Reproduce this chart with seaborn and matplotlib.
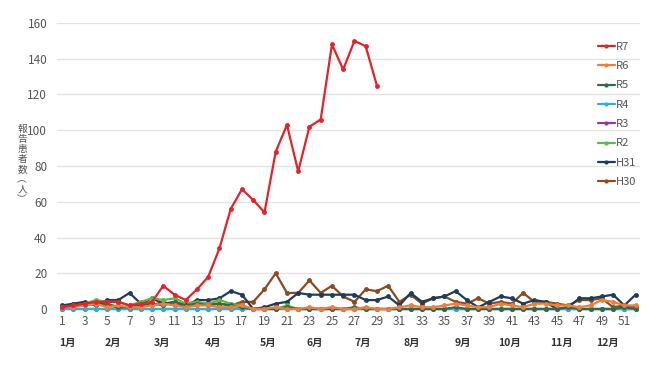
import matplotlib
matplotlib.use("Agg")
import matplotlib.pyplot as plt
from matplotlib.lines import Line2D
import seaborn as sns
import numpy as np
import pandas as pd

# weekly report counts
weeks = list(range(1, 53))
r7 = [1, 2, 3, 4, 4, 4, 2, 3, 4, 13, 8, 5, 11, 18, 34, 56, 67, 61, 54, 88,
      103, 77, 102, 106, 148, 134, 150, 147, 125]
r6 = [1, 1, 2, 3, 1, 2, 1, 1, 2, 3, 2, 1, 2, 2, 1, 1, 2, 0, 0, 1,
      0, 0, 1, 0, 1, 0, 0, 1, 0, 0, 1, 2, 1, 1, 2, 3, 2, 1, 1, 3,
      2, 1, 3, 3, 2, 2, 1, 2, 5, 4, 2, 2]
r5 = [1, 2, 2, 3, 2, 1, 1, 2, 3, 2, 4, 2, 3, 2, 3, 2, 1, 0, 0, 0,
      1, 0, 0, 0, 0, 0, 1, 0, 0, 0, 0, 0, 0, 0, 0, 1, 0, 0, 0, 0,
      0, 0, 0, 0, 0, 1, 0, 0, 0, 0, 1, 0]
r4 = [0] * 52
r3 = [0] * 52
r2 = [0, 1, 3, 5, 4, 4, 2, 4, 6, 5, 6, 3, 4, 3, 5, 3, 2, 0, 0, 0,
      2, 0, 0, 0, 0, 0, 0, 0, 0, 0, 0, 0, 0, 0, 0, 0, 0, 0, 0, 0,
      0, 0, 0, 0, 0, 0, 0, 0, 0, 0, 0, 0]
h31 = [2, 3, 4, 2, 5, 5, 9, 3, 6, 3, 4, 2, 5, 5, 6, 10, 8, 0, 1, 3,
       4, 9, 8, 8, 8, 8, 8, 5, 5, 7, 2, 9, 4, 6, 7, 10, 5, 1, 4, 7,
       6, 3, 5, 4, 0, 1, 6, 6, 7, 8, 2, 8]
h30 = [0, 1, 3, 4, 3, 1, 0, 3, 2, 4, 2, 2, 3, 3, 3, 2, 4, 4, 11, 20,
       9, 9, 16, 9, 13, 7, 4, 11, 10, 13, 4, 8, 3, 6, 7, 4, 3, 6, 3, 4,
       3, 9, 4, 4, 3, 2, 5, 5, 6, 1, 2, 1]

series = ["R7", "R6", "R5", "R4", "R3", "R2", "H31", "H30"]
values = [r7, r6, r5, r4, r3, r2, h31, h30]
colors = ["#e3232a", "#f27c3a", "#2f6b4c", "#2bb0d8", "#8a3f9f",
          "#64b346", "#1d3e5a", "#8c4a1f"]

months = ["1月", "2月", "3月", "4月", "5月", "6月", "7月", "8月", "9月",
          "10月", "11月", "12月"]
month_pos = [1.5, 5.5, 9.9, 14.4, 19.3, 23.5, 27.7, 32.1, 36.6, 40.8, 45.4, 49.5]

rows = []
for name, vals in zip(series, values):
    for w, v in zip(weeks, vals):
        rows.append((name, w, v))
df = pd.DataFrame(rows, columns=["year", "week", "count"])

sns.set_theme(style="white")
plt.rcParams["font.family"] = ["Noto Sans CJK JP", "DejaVu Sans"]

fig = plt.figure(figsize=(6.5, 3.65), dpi=100)
ax = fig.add_axes([0.0877, 0.1534, 0.897, 0.7836])

pal = dict(zip(series, colors))
for name in series[::-1]:
    sub = df[df["year"] == name]
    sns.lineplot(data=sub, x="week", y="count", color=pal[name], marker="o",
                 markersize=3.5, markeredgewidth=0, linewidth=1.6, ax=ax,
                 clip_on=False, legend=False)

ax.set_xlim(0.55, 52.4)
ax.set_ylim(0, 160)
ax.set_yticks(range(0, 161, 20))
ax.set_xticks(range(1, 53, 2))
ax.grid(axis="y", color="#e3e3e3", linewidth=1)
ax.set_axisbelow(True)
for s in ax.spines.values():
    s.set_visible(False)
ax.tick_params(axis="both", length=0, labelsize=8.5, colors="#555555")
ax.tick_params(axis="y", pad=7)
ax.tick_params(axis="x", pad=4)
ax.set_xlabel("")
ax.set_ylabel("")

trans = ax.get_xaxis_transform()
for m, p in zip(months, month_pos):
    ax.text(p, -0.12, m, transform=trans, ha="center", va="center",
            fontsize=7.5, color="#333333", fontweight="bold")

fig.text(0.034, 0.55, "\n".join("報告患者数") + "\n︵\n人\n︶", ha="center",
         va="center", fontsize=7, color="#555555", linespacing=1.0)

handles = [Line2D([0], [0], color=c, marker="o", markersize=3, linewidth=1.6,
                  markeredgewidth=0) for c in colors]
leg = ax.legend(handles, series, loc="upper left", bbox_to_anchor=(0.92, 0.95),
                frameon=False, fontsize=8, handlelength=1.5, handletextpad=0.1,
                labelspacing=0.84, borderaxespad=0)
for t in leg.get_texts():
    t.set_color("#555555")

fig.savefig("out.png", dpi=100)
